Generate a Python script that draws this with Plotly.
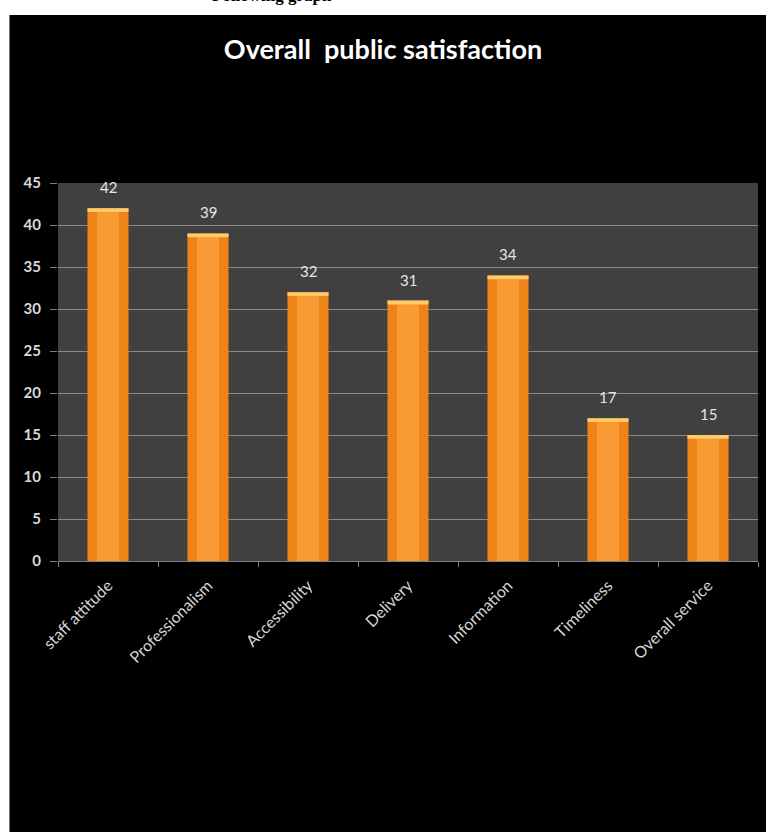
import plotly.graph_objects as go

categories = ["staff attitude", "Professionalism", "Accessibility", "Delivery",
              "Information", "Timeliness", "Overall service"]
values = [42, 39, 32, 31, 34, 17, 15]
y_ticks = [0, 5, 10, 15, 20, 25, 30, 35, 40, 45]

W, H = 766, 832
L, R, T, B = 58, 8, 183, 271
pw, ph = W - L - R, H - T - B

def px(x):
    return (x - L) / pw

def py(y):
    return (H - B - y) / ph

cap = 0.45
fig = go.Figure()
fig.add_trace(go.Bar(
    x=categories, y=values, width=0.41,
    marker=dict(color="#EE8418", line=dict(width=0)),
    hoverinfo="skip",
))
fig.add_trace(go.Bar(
    x=categories, y=[v - cap for v in values], width=0.22,
    marker=dict(color="#F99B33", line=dict(width=0)), hoverinfo="skip",
))
fig.add_trace(go.Bar(
    x=categories, y=[cap] * len(values), base=[v - cap for v in values], width=0.41,
    marker=dict(color="#FFCB6A", line=dict(width=0)), hoverinfo="skip",
))

annotations = [
    dict(text=str(v), x=c, y=v, xref="x", yref="y", showarrow=False,
         yanchor="bottom", yshift=10,
         font=dict(family="Lato", size=15, color="#E6E6E6"))
    for c, v in zip(categories, values)
]
annotations.append(
    dict(text="<b>Following graph</b>", xref="paper", yref="paper",
         x=px(272), y=py(7), xanchor="center", yanchor="bottom", showarrow=False,
         font=dict(family="Liberation Serif", size=17, color="black"))
)

fig.update_layout(
    width=W, height=H, barmode="overlay", showlegend=False,
    margin=dict(l=L, r=R, t=T, b=B, pad=0),
    paper_bgcolor="black", plot_bgcolor="#404040",
    title=dict(text="<b>Overall  public satisfaction</b>", x=0.5, xanchor="center",
               y=1 - 50 / H, yanchor="middle", yref="container",
               font=dict(family="Lato", size=27, color="white")),
    xaxis=dict(
        tickangle=-45, tickson="boundaries", ticks="outside", ticklen=5,
        tickcolor="#808080", showline=True, linecolor="#808080", linewidth=1,
        showgrid=False, tickfont=dict(family="Lato", size=16, color="#D6D6D6"),
        ticklabelstandoff=8,
        range=[-0.5, len(categories) - 0.5], fixedrange=True,
    ),
    yaxis=dict(
        range=[0, 45], tickvals=y_ticks, ticks="outside", ticklen=7,
        tickcolor="#808080", showgrid=True, gridcolor="#8A8A8A", gridwidth=1,
        zeroline=False, showline=False, ticklabelstandoff=6,
        tickfont=dict(family="Lato", size=15, color="#DADADA", weight="bold"),
    ),
    shapes=[
        dict(type="rect", xref="paper", yref="paper", x0=px(-5), x1=px(W + 5),
             y0=py(15), y1=py(-5), fillcolor="white", line=dict(width=0), layer="below"),
        dict(type="rect", xref="paper", yref="paper", x0=px(-5), x1=px(9),
             y0=py(H + 5), y1=py(-5), fillcolor="white", line=dict(width=0), layer="below"),
        dict(type="line", xref="paper", yref="paper", x0=px(9.5), x1=px(9.5),
             y0=py(H), y1=py(15), line=dict(color="#777777", width=1), layer="below"),
    ],
    annotations=annotations,
)

fig.write_html("out.html")
